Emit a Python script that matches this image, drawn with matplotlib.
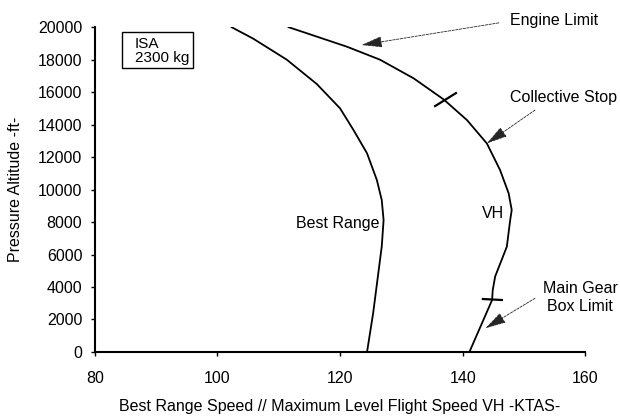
import matplotlib
matplotlib.use("Agg")
import matplotlib.pyplot as plt
from matplotlib.patches import Rectangle

plt.rcParams['font.family'] = ['Liberation Sans', 'DejaVu Sans']
FS = 11.5

# Best range speed vs pressure altitude
br_alt = [20000, 19300, 18000, 16500, 15000, 13660, 12230, 10590,
          9350, 8120, 6500, 2400, 0]
br_speed = [102.3, 105.8, 111.3, 116.2, 120.0, 122.2, 124.4, 126.0,
            126.8, 127.1, 126.8, 125.4, 124.4]

# Maximum level flight speed VH vs pressure altitude
vh_alt = [20000, 18800, 18000, 16850, 15550, 14280, 12840, 11200,
          9770, 8740, 8120, 6480, 4650, 3800, 3200, 0]
vh_speed = [111.6, 121.1, 126.5, 132.0, 136.9, 140.7, 143.95, 146.1,
            147.5, 148.0, 147.75, 147.2, 145.3, 144.9, 144.8, 141.1]

# limit markers crossing the VH curve
collective_tick_x = [135.5, 138.9]
collective_tick_y = [15140, 15940]
gearbox_tick_x = [143.3, 146.4]
gearbox_tick_y = [3260, 3200]

fig = plt.figure(figsize=(6.2, 4.18), dpi=100)
ax = fig.add_axes([0.153, 0.158, 0.791, 0.777])

ax.plot(br_speed, br_alt, color='black', lw=1.3)
ax.plot(vh_speed, vh_alt, color='black', lw=1.3)
ax.plot(collective_tick_x, collective_tick_y, color='black', lw=1.6)
ax.plot(gearbox_tick_x, gearbox_tick_y, color='black', lw=1.6)

ax.set_xlim(80, 160)
ax.set_ylim(0, 20000)
ax.set_xticks([80, 100, 120, 140, 160])
ax.set_yticks(range(0, 20001, 2000))
for s in ['top', 'right']:
    ax.spines[s].set_visible(False)
for s in ['left', 'bottom']:
    ax.spines[s].set_linewidth(1.5)
ax.tick_params(direction='out', length=3, width=1, labelsize=FS)
ax.tick_params(axis='x', pad=11)
ax.tick_params(axis='y', pad=6)

ax.set_xlabel('Best Range Speed // Maximum Level Flight Speed VH -KTAS-', fontsize=FS, labelpad=9)
ax.set_ylabel('Pressure Altitude -ft-', fontsize=FS, labelpad=11)

ax.text(119.7, 7940, 'Best Range', fontsize=FS, ha='center', va='center')
ax.text(144.9, 8554, 'VH', fontsize=FS, ha='center', va='center')

# ISA box
ax.add_patch(Rectangle((84.45, 17460), 11.5, 2215, fill=False, ec='black', lw=1.0))
ax.text(86.5, 18954, 'ISA', fontsize=11, ha='left', va='center')
ax.text(86.5, 18093, '2300 kg', fontsize=11, ha='left', va='center')

arrow = dict(arrowstyle='-|>,head_length=1.3,head_width=0.35', color='0.15', lw=0.6,
             linestyle=(0, (3, 1.5)), shrinkA=0, shrinkB=0)
ax.annotate('', xy=(123.5, 18900), xytext=(145.9, 20265), arrowprops=arrow, annotation_clip=False)
ax.text(154.9, 20430, 'Engine Limit', fontsize=FS, ha='center', va='center', clip_on=False)

ax.annotate('', xy=(143.95, 12843), xytext=(151.8, 14892), arrowprops=arrow)
ax.text(156.4, 15690, 'Collective Stop', fontsize=FS, ha='center', va='center', clip_on=False)

ax.annotate('', xy=(143.7, 1458), xytext=(151.8, 3305), arrowprops=arrow)
ax.text(159.2, 3323, 'Main Gear\nBox Limit', fontsize=FS, ha='center', va='center',
        linespacing=1.25, clip_on=False)

fig.savefig('out.png', dpi=100)
